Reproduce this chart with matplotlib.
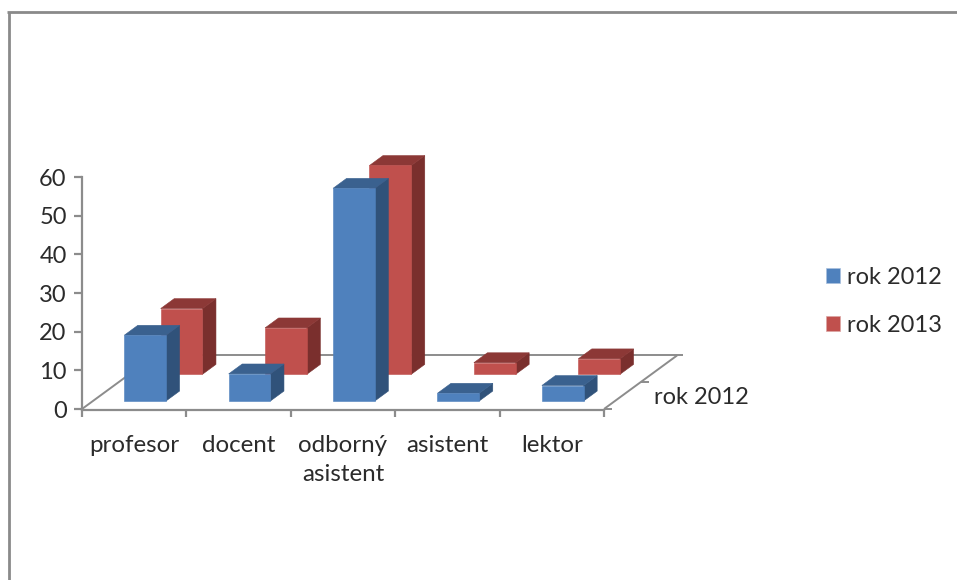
import matplotlib
matplotlib.use("Agg")
import matplotlib.pyplot as plt
from matplotlib.lines import Line2D
from matplotlib.patches import Patch, Polygon

plt.rcParams['font.family'] = ['Lato', 'DejaVu Sans']

categories = ['profesor', 'docent', 'odborný\nasistent', 'asistent', 'lektor']
rok_2012 = [17, 7, 55, 2, 4]
rok_2013 = [17, 12, 54, 3, 4]
y_ticks = [0, 10, 20, 30, 40, 50, 60]

W, H = 957, 580
GREY = '#8c8c8c'
TEXT = '#2b2b2b'

# oblique depth of the floor, in data units
DX = 0.70
DY = 13.85
BAR_W = 0.40
BAR_D = 0.185


def proj(x, v, d):
    return (x + d * DX, v + d * DY)


def draw_bars(ax, values, depth, front, side, top, z):
    for i, v in enumerate(values):
        x0 = i + 0.5 - BAR_W / 2
        x1 = i + 0.5 + BAR_W / 2
        d0 = depth
        d1 = depth + BAR_D
        ax.add_patch(Polygon([proj(x1, 0, d0), proj(x1, 0, d1), proj(x1, v, d1), proj(x1, v, d0)],
                             fc=side, ec=side, lw=0.4, zorder=z, clip_on=False))
        ax.add_patch(Polygon([proj(x0, v, d0), proj(x1, v, d0), proj(x1, v, d1), proj(x0, v, d1)],
                             fc=top, ec=top, lw=0.4, zorder=z, clip_on=False))
        ax.add_patch(Polygon([proj(x0, 0, d0), proj(x1, 0, d0), proj(x1, v, d0), proj(x0, v, d0)],
                             fc=front, ec=front, lw=0.4, zorder=z + 0.1, clip_on=False))


fig = plt.figure(figsize=(W / 100, H / 100), dpi=100, facecolor='white')
ax = fig.add_axes([82 / W, (H - 409) / H, 522 / W, 232 / H])
ax.patch.set_alpha(0)
ax.set_xlim(0, 5)
ax.set_ylim(0, 60)

for s in ['top', 'right']:
    ax.spines[s].set_visible(False)
ax.spines['left'].set_color(GREY)
ax.spines['left'].set_linewidth(1.6)
ax.spines['bottom'].set_color(GREY)
ax.spines['bottom'].set_linewidth(1.6)
ax.spines['bottom'].set_position(('outward', 0.5))

ax.set_yticks(y_ticks)
ax.set_xticks(range(6))
ax.set_xticklabels([])
ax.set_xticks([i + 0.5 for i in range(5)], minor=True)
ax.set_xticklabels(categories, minor=True, fontsize=17.4, color=TEXT, linespacing=1.5)
ax.tick_params(axis='x', which='major', length=5, width=1.6, color=GREY)
ax.tick_params(axis='x', which='minor', length=0, pad=18)
ax.tick_params(axis='y', length=6, width=1.6, color=GREY, labelsize=17, labelcolor=TEXT, pad=5)

# floor edges and depth axis
floor = dict(color=GREY, lw=1.4, zorder=1, clip_on=False, solid_capstyle='butt')
p0 = proj(0, 0, 0)
p1 = proj(0, 0, 1)
p2 = proj(5, 0, 1)
p3 = proj(5, 0, 0)
ax.plot([p0[0], p1[0]], [p0[1], p1[1]], **floor)
ax.plot([p1[0], p2[0] + 0.06], [p1[1], p2[1]], **floor)
ax.plot([p3[0], p2[0]], [p3[1], p2[1]], **floor)
for d in [0, 0.5]:
    px, py = proj(5, 0, d)
    ax.plot([px, px + 0.08], [py, py], **floor)

draw_bars(ax, rok_2013, 0.648, '#c0504d', '#7a2f2d', '#8c3836', 3)
draw_bars(ax, rok_2012, 0.15, '#4f81bd', '#30527a', '#3a618f', 4)

fig.text(654 / W, 1 - 397 / H, 'rok 2012', fontsize=17, color=TEXT, va='center', ha='left')

handles = [Patch(fc='#4f81bd', ec='#a8c0de', lw=0.5, label='rok 2012'),
           Patch(fc='#c0504d', ec='#dba5a3', lw=0.5, label='rok 2013')]
fig.legend(handles=handles, loc='center left', bbox_to_anchor=(826 / W, 1 - 301.5 / H),
           frameon=False, fontsize=17, labelcolor=TEXT, handlelength=0.6, handleheight=0.6,
           handletextpad=0.3, labelspacing=1.13, borderpad=0, borderaxespad=0)

# picture frame, left and top only
frame = dict(color='#8a8a8a', lw=2.0, transform=fig.transFigure, solid_capstyle='butt')
fig.add_artist(Line2D([8.5 / W, 8.5 / W], [0, 1 - 11.5 / H], **frame))
fig.add_artist(Line2D([7.5 / W, 1], [1 - 11.5 / H, 1 - 11.5 / H], **frame))

fig.savefig('out.png', dpi=100)
